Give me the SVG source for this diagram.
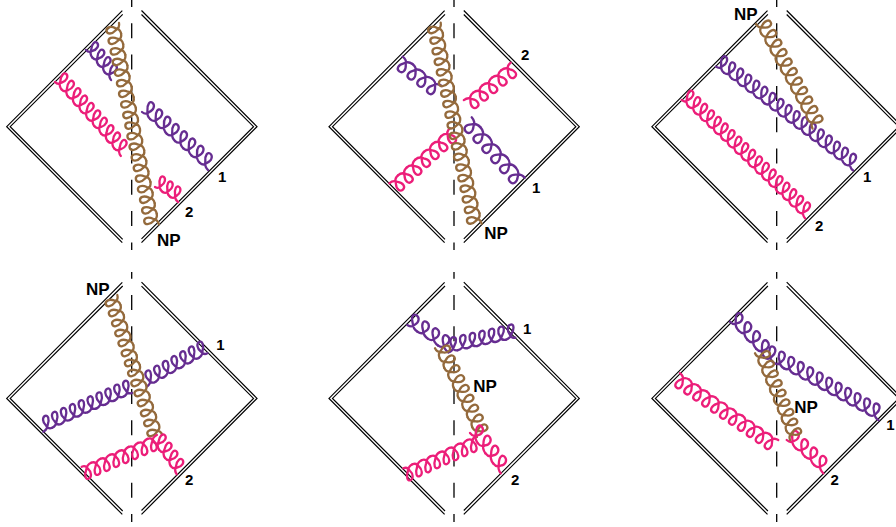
<svg xmlns="http://www.w3.org/2000/svg" width="896" height="527" viewBox="0 0 896 527">
<style>
.f{fill:none;stroke:#000;stroke-width:1.2}
.d{fill:none;stroke:#000;stroke-width:1.3;stroke-dasharray:15 16.3}
.u{fill:none;stroke-linecap:round;vector-effect:non-scaling-stroke}
.b{stroke:#946a3c;stroke-width:2.3;fill:none}
.v{stroke:#662d91;stroke-width:2.3;fill:none}
.p{stroke:#ec1e79;stroke-width:2.3;fill:none}
text{font-family:"Liberation Sans",Arial,sans-serif;font-weight:bold;fill:#000}
.n{font-size:17px}
.k{font-size:15px}
</style>
<defs>
<path id="c1" class="u" d="M0,0c3,0 5,-1.5 6,-4c3.2,-4 2.2,-8 -1,-8c-3.2,0 -4.2,4 -1,8c1,2.5 3,4 6,4"/>
<g id="c2"><use href="#c1"/><use href="#c1" x="10"/></g>
<g id="c3"><use href="#c2"/><use href="#c1" x="20"/></g>
<g id="c4"><use href="#c3"/><use href="#c1" x="30"/></g>
<g id="c5"><use href="#c4"/><use href="#c1" x="40"/></g>
<g id="c6"><use href="#c5"/><use href="#c1" x="50"/></g>
<g id="c7"><use href="#c6"/><use href="#c1" x="60"/></g>
<g id="c8"><use href="#c7"/><use href="#c1" x="70"/></g>
<g id="c9"><use href="#c8"/><use href="#c1" x="80"/></g>
<g id="c10"><use href="#c9"/><use href="#c1" x="90"/></g>
<g id="c11"><use href="#c10"/><use href="#c1" x="100"/></g>
<g id="c12"><use href="#c11"/><use href="#c1" x="110"/></g>
<g id="c14"><use href="#c12"/><use href="#c2" x="120"/></g>
<g id="c17"><use href="#c14"/><use href="#c3" x="140"/></g>
<g id="c18"><use href="#c17"/><use href="#c1" x="170"/></g>
<g id="c19"><use href="#c18"/><use href="#c1" x="180"/></g>
<g id="frame">
<polyline class="f" points="122.3,10.7 6.7,126.7 122.3,242.7"/>
<polyline class="f" points="122.7,14.3 10.2,126.7 122.7,239.3"/>
<polyline class="f" points="141.5,10.5 257,126.7 141.5,242.7"/>
<polyline class="f" points="141.5,14.5 253.5,126.7 141.5,238.8"/>
</g>
</defs>

<g id="frames">
<g id="frame-a"><use href="#frame"/><line class="d" x1="131.7" y1="0" x2="131.7" y2="250" stroke-dashoffset="8"/></g>
<g id="frame-b"><use href="#frame" x="322.3"/><line class="d" x1="454" y1="0" x2="454" y2="250" stroke-dashoffset="8"/></g>
<g id="frame-c"><use href="#frame" x="645.2"/><line class="d" x1="776.7" y1="0" x2="776.7" y2="250" stroke-dashoffset="8"/></g>
<g id="frame-d"><use href="#frame" y="271.7"/><line class="d" x1="131.7" y1="272" x2="131.7" y2="522" stroke-dashoffset="8.3"/></g>
<g id="frame-e"><use href="#frame" x="322.3" y="271.7"/><line class="d" x1="454" y1="272" x2="454" y2="522" stroke-dashoffset="8.3"/></g>
<g id="frame-f"><use href="#frame" x="645.2" y="271.7"/><line class="d" x1="776.7" y1="272" x2="776.7" y2="522" stroke-dashoffset="8.3"/></g>
</g>

<g id="connectors">
<g id="gluons-a">
<use href="#c4" class="v" transform="translate(86,50) rotate(50.2) scale(.98,1.1) skewX(15)"/>
<use href="#c10" class="p" transform="translate(55,82) rotate(48.3) scale(.99,1.15) skewX(15)"/>
<use href="#c8" class="v" transform="translate(142,112) rotate(41.3) scale(1.1,1.15) skewX(15)"/>
<use href="#c3" class="p" transform="translate(155,187) rotate(33) scale(.92,1.1) skewX(15)"/>
<use href="#c19" class="b" transform="translate(119,23) rotate(78.8) scale(1.08,-1.15)"/>
</g>
<g id="gluons-b">
<use href="#c4" class="v" transform="translate(402.7,56.7) rotate(36.9) scale(1.22,-1.15)"/>
<use href="#c5" class="p" transform="translate(510.7,62.7) rotate(141.4) scale(1.2,1.15)"/>
<use href="#c7" class="p" transform="translate(389.3,183.3) rotate(-42.3) scale(1.17,-1.15)"/>
<use href="#c6" class="v" transform="translate(471.7,117.3) rotate(48.7) scale(1.34,-1.15)"/>
<use href="#c19" class="b" transform="translate(440.7,22.7) rotate(78.5) scale(1.08,-1.15)"/>
</g>
<g id="gluons-c">
<use href="#c17" class="v" transform="translate(716,66.7) rotate(37.1) scale(1.01,1.15) skewX(15)"/>
<use href="#c18" class="p" transform="translate(681.7,100) rotate(43.8) scale(.95,1.15) skewX(15)"/>
<use href="#c11" class="b" transform="translate(756,24) rotate(61.6) scale(1.08,1.15)"/>
</g>
<g id="gluons-d">
<use href="#c7" class="v" transform="translate(146.7,386.7) rotate(-28.9) scale(.99,1.15) skewX(-15)"/>
<use href="#c10" class="v" transform="translate(43.3,431.7) rotate(-23.6) scale(.97,1.15) skewX(-15)"/>
<use href="#c14" class="b" transform="translate(117.3,295) rotate(72.2) scale(1.05,-1.15)"/>
<use href="#c8" class="p" transform="translate(81.7,466.7) rotate(-22.9) scale(1.02,-1.15) skewX(15)"/>
<use href="#c4" class="p" transform="translate(153.3,441.7) rotate(54.3) scale(1,1.1) skewX(15)"/>
</g>
<g id="gluons-e">
<use href="#c4" class="v" transform="translate(407.3,325) rotate(33.7) scale(1.23,1.1) skewX(15)"/>
<use href="#c7" class="v" transform="translate(448.3,352.3) rotate(-12.3) scale(.98,1.15) skewX(-15)"/>
<use href="#c9" class="b" transform="translate(435,348.3) rotate(64.7) scale(1.09,1.15)"/>
<use href="#c8" class="p" transform="translate(403.3,468.3) rotate(-23.9) scale(1,-1.15) skewX(15)"/>
<use href="#c4" class="p" transform="translate(470,433) rotate(52.7) scale(1.27,1.1) skewX(15)"/>
</g>
<g id="gluons-f">
<use href="#c4" class="v" transform="translate(730,321.7) rotate(46) scale(1.26,1.1) skewX(15)"/>
<use href="#c12" class="v" transform="translate(765,358) rotate(28.7) scale(1.08,1.15) skewX(15)"/>
<use href="#c11" class="p" transform="translate(680,373.3) rotate(34.2) scale(1.08,-1.15)"/>
<use href="#c4" class="p" transform="translate(786.7,440) rotate(42.3) scale(1.24,1.1) skewX(15)"/>
<use href="#c9" class="b" transform="translate(755,353.3) rotate(68) scale(1.04,1.15)"/>
</g>
</g>

<g id="labels">
<text class="n" x="157" y="245.7">NP</text><text class="k" x="218" y="182">1</text><text class="k" x="185" y="216.7">2</text>
<text class="n" x="484.3" y="239">NP</text><text class="k" x="532" y="192.7">1</text><text class="k" x="521" y="60">2</text>
<text class="n" x="734" y="20">NP</text><text class="k" x="863" y="182.3">1</text><text class="k" x="815" y="230.7">2</text>
<text class="n" x="86" y="295">NP</text><text class="k" x="216.3" y="350">1</text><text class="k" x="185" y="485">2</text>
<text class="n" x="473.3" y="392.3">NP</text><text class="k" x="523" y="334.3">1</text><text class="k" x="511" y="485">2</text>
<text class="n" x="794.3" y="412.7">NP</text><text class="k" x="886.3" y="430">1</text><text class="k" x="830.5" y="485">2</text>
</g>
</svg>
